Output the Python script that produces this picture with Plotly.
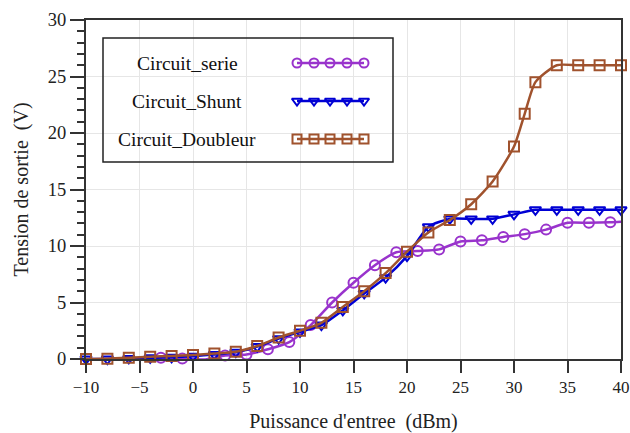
import plotly.graph_objects as go

# Input power (dBm) and output voltage (V) for each rectifier topology
x_serie = [-5, -3, -1, 1, 3, 5, 7, 9, 11, 13, 15, 17, 19, 21, 23, 25, 27, 29, 31, 33, 35, 37, 39, 40]
y_serie = [-0.1, 0.12, 0.05, -0.05, 0.3, 0.4, 0.86, 1.5, 3.0, 5.0, 6.75, 8.3, 9.45, 9.55, 9.7,
           10.4, 10.5, 10.8, 11.05, 11.45, 12.05, 12.05, 12.1, 12.15]

x_shunt = [-10, -8, -6, -4, -2, 0, 2, 4, 6, 8, 10, 12, 14, 16, 18, 20, 22, 24, 26, 28, 30, 32, 34, 36, 38, 40]
y_shunt = [0.0, 0.0, 0.05, 0.1, 0.15, 0.25, 0.4, 0.6, 1.1, 1.8, 2.4, 3.0, 4.3, 5.8, 7.2, 9.1, 11.7,
           12.4, 12.4, 12.4, 12.8, 13.2, 13.2, 13.2, 13.2, 13.2]

x_doubleur = [-10, -8, -6, -4, -2, 0, 2, 4, 6, 8, 10, 12, 14, 16, 18, 20, 22, 24, 26, 28, 30, 31, 32, 34, 36, 38, 40]
y_doubleur = [0.0, 0.02, 0.1, 0.2, 0.27, 0.35, 0.48, 0.65, 1.15, 1.9, 2.5, 3.2, 4.6, 6.0, 7.6, 9.5, 11.2,
              12.3, 13.7, 15.7, 18.8, 21.7, 24.5, 26.0, 26.0, 26.0, 26.0]

x_ticks = [-10, -5, 0, 5, 10, 15, 20, 25, 30, 35, 40]
y_ticks = [0, 5, 10, 15, 20, 25, 30]

names = ["Circuit_serie", "Circuit_Shunt", "Circuit_Doubleur"]
colors = ["#9933CC", "#0000D4", "#A0522D"]
symbols = ["circle-open", "triangle-down-open", "square-open"]
msizes = [10, 10, 10]

FONT = "Liberation Serif, Times New Roman, serif"

fig = go.Figure()

series = [(x_serie, y_serie), (x_shunt, y_shunt), (x_doubleur, y_doubleur)]
for i, (xs, ys) in enumerate(series):
    sizes = [msizes[i]] * len(xs)
    if i == 0:
        sizes[-1] = 0  # line end point only, no marker
    fig.add_trace(go.Scatter(
        x=xs, y=ys, mode="lines+markers", name=names[i], showlegend=False, cliponaxis=False,
        line=dict(color=colors[i], width=2.5, shape="spline", smoothing=0.6),
        marker=dict(symbol=symbols[i], size=sizes, opacity=1, color=colors[i],
                    line=dict(width=2, color=colors[i])),
    ))

# Custom legend box: text on the left, five-marker sample line on the right
legend_rows_y = [296, 258, 220]           # overlay-axis units (pixels above plot bottom)
sample_x = [211, 228, 244, 261, 278]       # overlay-axis units (pixels right of plot left)
for i in range(3):
    fig.add_trace(go.Scatter(
        x=sample_x, y=[legend_rows_y[i]] * len(sample_x), xaxis="x2", yaxis="y2",
        mode="lines+markers", showlegend=False, hoverinfo="skip",
        line=dict(color=colors[i], width=2.5),
        marker=dict(symbol=symbols[i], size=9, opacity=1, color=colors[i], line=dict(width=2, color=colors[i])),
    ))
    fig.add_annotation(x=101, y=legend_rows_y[i], xref="x2", yref="y2", text=names[i],
                       showarrow=False, xanchor="center", yanchor="middle",
                       font=dict(family=FONT, size=19.5, color="#111"))

fig.add_shape(type="rect", xref="x2", yref="y2", x0=17, x1=307, y0=197, y1=321,
              line=dict(color="#222", width=1.5), fillcolor="rgba(0,0,0,0)")

axis_common = dict(
    showline=True, linecolor="#333", linewidth=2, mirror=True, automargin=False,
    showgrid=True, gridcolor="#E6E6E6", gridwidth=1, zeroline=False,
    ticks="outside", tickcolor="#333", tickwidth=1.5,
)

fig.update_layout(
    width=630, height=433,
    margin=dict(l=86, r=9, t=20, b=74),
    paper_bgcolor="white", plot_bgcolor="white",
    font=dict(family=FONT, color="#222"),
    xaxis=dict(range=[-10, 40], tickvals=x_ticks, ticklen=12,
               tickfont=dict(family=FONT, size=17, color="#222"),
               title=dict(text="Puissance d'entree  (dBm)", font=dict(family=FONT, size=20), standoff=18),
               **axis_common),
    yaxis=dict(range=[0, 30], tickvals=y_ticks, ticklen=14,
               tickfont=dict(family=FONT, size=18.5, color="#222"),
               minor=dict(dtick=1, ticklen=7, ticks="outside", tickcolor="#333", tickwidth=1.5, showgrid=False),
               title=dict(text="Tension de sortie  (V)", font=dict(family=FONT, size=20), standoff=14),
               **axis_common),
    xaxis2=dict(overlaying="x", range=[0, 535], visible=False, domain=[0, 1]),
    yaxis2=dict(overlaying="y", range=[0, 339], visible=False, domain=[0, 1]),
)

fig.write_html("out.html")
